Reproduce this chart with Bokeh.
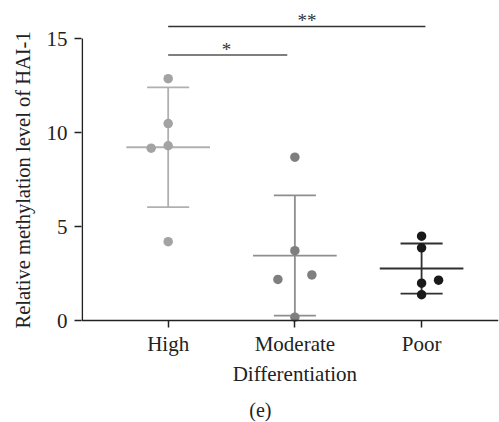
from bokeh.plotting import figure
from bokeh.models import FixedTicker, Label, ColumnDataSource, Range1d, Title
from bokeh.embed import file_html
from bokeh.resources import INLINE

# ---- data ----
categories = ["High", "Moderate", "Poor"]
high_vals = [12.87, 10.48, 9.30, 9.17, 4.20]
high_jitter = [0.0, 0.0, 0.0, -0.134, 0.0]
moderate_vals = [8.69, 3.72, 2.19, 2.43, 0.18]
moderate_jitter = [0.0, 0.0, -0.134, 0.134, 0.0]
poor_vals = [4.49, 3.87, 1.99, 2.15, 1.38]
poor_jitter = [0.0, 0.0, 0.0, 0.134, 0.0]
group_means = [9.22, 3.46, 2.77]
group_sd = [3.18, 3.20, 1.33]
sig_x0 = [0.0, 0.0]
sig_x1 = [0.94, 2.03]
sig_y = [14.13, 15.64]
sig_text = ["*", "**"]
y_ticks = [0, 5, 10, 15]

point_colors = ["#a3a3a3", "#7f7f7f", "#1a1a1a"]
bar_colors = ["#b0b0b0", "#8e8e8e", "#303030"]
FONT = "Liberation Serif"
TXT = "#222222"

W, H = 499, 422
p = figure(width=W, height=H, output_backend="svg", toolbar_location=None,
           x_range=Range1d(-0.684, 2.607), y_range=Range1d(-5.42, 16.76),
           min_border_left=81, min_border_right=1,
           min_border_top=5, min_border_bottom=0)
p.xgrid.visible = False
p.ygrid.visible = False
p.outline_line_color = None
p.background_fill_color = "white"
p.border_fill_color = "white"

# axes
p.xaxis.ticker = FixedTicker(ticks=list(range(len(categories))))
p.xaxis.major_label_overrides = {i: c for i, c in enumerate(categories)}
p.xaxis.fixed_location = 0
p.yaxis.ticker = FixedTicker(ticks=y_ticks)
for ax in (p.xaxis, p.yaxis):
    ax.major_label_text_font = FONT
    ax.major_label_text_font_size = "21px"
    ax.major_label_text_color = TXT
    ax.major_tick_line_color = TXT
    ax.major_tick_line_width = 1.5
    ax.major_tick_in = 0
    ax.major_tick_out = 7
    ax.minor_tick_line_color = None
p.xaxis.axis_line_color = TXT
p.xaxis.axis_line_width = 1.6
p.xaxis.major_label_standoff = 4
p.yaxis.axis_line_color = None
p.yaxis.major_label_standoff = 7

# custom y axis line from 0 to 15
xs0 = p.x_range.start + 0.006
p.segment(x0=[xs0], y0=[0], x1=[xs0], y1=[max(y_ticks)], line_color=TXT, line_width=1.6)

groups = [(high_vals, high_jitter), (moderate_vals, moderate_jitter), (poor_vals, poor_jitter)]
mean_half = 0.33
cap_half = 0.166
for i, (vals, jit) in enumerate(groups):
    m, s = group_means[i], group_sd[i]
    p.segment(x0=[i], y0=[m - s], x1=[i], y1=[m + s], line_color=bar_colors[i], line_width=1.8)
    p.segment(x0=[i - cap_half, i - cap_half], y0=[m - s, m + s],
              x1=[i + cap_half, i + cap_half], y1=[m - s, m + s],
              line_color=bar_colors[i], line_width=1.8)
    p.segment(x0=[i - mean_half], y0=[m], x1=[i + mean_half], y1=[m],
              line_color=bar_colors[i], line_width=1.8)
    src = ColumnDataSource(dict(x=[i + j for j in jit], y=vals))
    p.scatter("x", "y", source=src, size=9.5, fill_color=point_colors[i],
              line_color=point_colors[i], line_width=0)

# significance brackets
sig_colors = ["#555555", "#333333"]
for k in range(len(sig_y)):
    p.segment(x0=[sig_x0[k]], y0=[sig_y[k]], x1=[sig_x1[k]], y1=[sig_y[k]],
              line_color=sig_colors[k], line_width=1.4)
    p.add_layout(Label(x=(sig_x0[k] + sig_x1[k]) / 2 + (-0.01 if k == 0 else 0.08),
                       y=sig_y[k] + 0.3, text=sig_text[k],
                       text_font=FONT, text_font_size="19px", text_color="#333333",
                       text_align="center", text_baseline="alphabetic"))

# y axis title in the left panel (anchored from the panel bottom)
ytitle = Title(text="Relative methylation level of HAI-1", align="left", offset=94,
               text_font=FONT, text_font_size="20.5px", text_color=TXT,
               text_font_style="normal", standoff=19)
p.add_layout(ytitle, "left")
# x axis title and panel label (inside the frame, below the axis)
p.add_layout(Label(x=1.0, y=-2.85, text="Differentiation",
                   text_font=FONT, text_font_size="21px", text_color=TXT,
                   text_align="center", text_baseline="middle"))
p.add_layout(Label(x=0.728, y=-4.73, text="(e)",
                   text_font=FONT, text_font_size="20px", text_color=TXT,
                   text_align="center", text_baseline="middle"))

open("out.html", "w").write(file_html(p, INLINE))
